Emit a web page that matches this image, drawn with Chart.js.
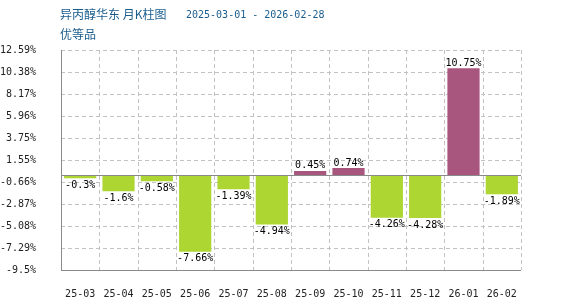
<!DOCTYPE html>
<html>
<head>
<meta charset="utf-8">
<script src="https://cdn.jsdelivr.net/npm/chart.js@4/dist/chart.umd.min.js"></script>
<style>
  html, body { margin: 0; padding: 0; background: #fff; }
  #wrap { width: 570px; height: 300px; position: relative; }
</style>
</head>
<body>
<div id="wrap"><canvas id="chart"></canvas></div>
<script>
// 异丙醇华东 月K柱图 - 月涨跌幅
const months = ["25-03", "25-04", "25-05", "25-06", "25-07", "25-08", "25-09", "25-10", "25-11", "25-12", "26-01", "26-02"];
const changes = [-0.3, -1.6, -0.58, -7.66, -1.39, -4.94, 0.45, 0.74, -4.26, -4.28, 10.75, -1.89];
const yTickLabels = ["-9.5%", "-7.29%", "-5.08%", "-2.87%", "-0.66%", "1.55%", "3.75%", "5.96%", "8.17%", "10.38%", "12.59%"];
const yMin = -9.5;
const yMax = 12.59;

const UP = "#A9567F";
const DOWN = "#ADD633";
const MONO = "'DejaVu Sans Mono', monospace";

// 标题和副标题
const titlePlugin = {
  id: "titleText",
  afterDraw(chart) {
    const ctx = chart.ctx;
    ctx.save();
    ctx.fillStyle = "#1B5E8E";
    ctx.textBaseline = "middle";
    ctx.textAlign = "left";
    ctx.font = "12px 'Noto Sans CJK SC'";
    ctx.fillText("异丙醇华东 月K柱图", 60, 14);
    ctx.fillText("优等品", 60, 34);
    ctx.font = "10px " + MONO;
    ctx.fillText("2025-03-01 - 2026-02-28", 186, 15);
    ctx.restore();
  }
};

// 虚线网格
const gridPlugin = {
  id: "dashGrid",
  beforeDatasetsDraw(chart) {
    const ctx = chart.ctx;
    const area = chart.chartArea;
    const x = chart.scales.x;
    const y = chart.scales.y;
    ctx.save();
    ctx.strokeStyle = "#c2c2c2";
    ctx.lineWidth = 1;
    ctx.setLineDash([4, 3]);
    ctx.beginPath();
    y.ticks.forEach((t) => {
      const py = Math.round(y.getPixelForValue(t.value)) + 0.5;
      if (t.value === yMin) return;
      ctx.moveTo(area.left, py);
      ctx.lineTo(area.right, py);
    });
    for (let i = 1; i <= months.length; i++) {
      const px = Math.round(x.getPixelForValue(i - 0.5)) + 0.5;
      ctx.moveTo(px, area.top);
      ctx.lineTo(px, area.bottom);
    }
    ctx.stroke();
    ctx.restore();
  }
};

// 坐标轴、零线和数值标签
const valuePlugin = {
  id: "valueLabels",
  afterDatasetsDraw(chart) {
    const ctx = chart.ctx;
    const y = chart.scales.y;
    const area = chart.chartArea;
    ctx.save();
    const zero = Math.round(y.getPixelForValue(0)) + 0.5;
    const bottom = Math.round(area.bottom) + 0.5;
    const left = Math.round(area.left) + 0.5;
    ctx.strokeStyle = "#8a8a8a";
    ctx.lineWidth = 1;
    ctx.beginPath();
    ctx.moveTo(area.left, zero);
    ctx.lineTo(area.right, zero);
    ctx.moveTo(area.left, bottom);
    ctx.lineTo(area.right, bottom);
    ctx.moveTo(left, area.top);
    ctx.lineTo(left, bottom);
    ctx.stroke();

    ctx.fillStyle = "#000";
    ctx.font = "10px " + MONO;
    ctx.textAlign = "center";
    const meta = chart.getDatasetMeta(0);
    meta.data.forEach((bar, i) => {
      const v = changes[i];
      const text = v + "%";
      if (v >= 0) {
        ctx.textBaseline = "bottom";
        ctx.fillText(text, bar.x, bar.y);
      } else {
        ctx.textBaseline = "top";
        ctx.fillText(text, bar.x, bar.y + 2);
      }
    });
    ctx.restore();
  }
};

new Chart(document.getElementById("chart").getContext("2d"), {
  type: "bar",
  data: {
    labels: months,
    datasets: [
      {
        data: changes,
        backgroundColor: changes.map((v) => (v >= 0 ? UP : DOWN)),
        barPercentage: 0.84,
        categoryPercentage: 1
      }
    ]
  },
  options: {
    responsive: true,
    maintainAspectRatio: false,
    animation: false,
    layout: {
      padding: { top: 50, right: 49, left: 0, bottom: 0 }
    },
    plugins: {
      legend: { display: false },
      tooltip: { enabled: false }
    },
    scales: {
      x: {
        afterFit(scale) {
          scale.height = 30;
        },
        grid: { display: false, offset: true },
        border: { display: false },
        ticks: {
          padding: 10,
          color: "#222",
          font: { family: MONO, size: 10 }
        }
      },
      y: {
        min: yMin,
        max: yMax,
        afterFit(scale) {
          scale.width = 61;
        },
        afterBuildTicks(scale) {
          scale.ticks = yTickLabels.map((_, i) => ({ value: yMin + (i * (yMax - yMin)) / 10 }));
        },
        grid: { display: false },
        border: { display: false },
        ticks: {
          padding: 17,
          color: "#222",
          font: { family: MONO, size: 10 },
          callback: (value, index) => yTickLabels[index]
        }
      }
    }
  },
  plugins: [titlePlugin, gridPlugin, valuePlugin]
});
</script>
</body>
</html>
